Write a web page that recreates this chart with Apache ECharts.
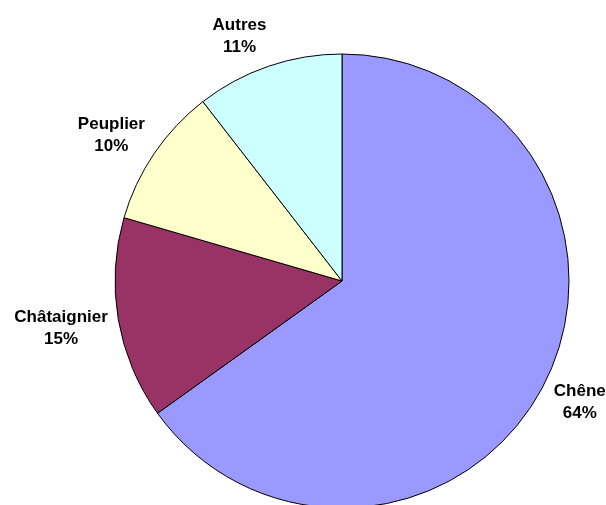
<!DOCTYPE html>
<html><head><meta charset="utf-8">
<script src="https://cdn.jsdelivr.net/npm/echarts@6/dist/echarts.min.js"></script>
<style>html,body{margin:0;padding:0;background:#fff}#c{width:606px;height:505px}</style>
</head><body><div id="c"></div>
<script>
const categories = ['Chêne', 'Châtaignier', 'Peuplier', 'Autres'];
// slice sizes as drawn in the picture
const values = [65.1, 14.4, 10.0, 10.5];
// percentage texts as printed on the picture
const pctLabels = ['64%', '15%', '10%', '11%'];
const colors = ['#9999FF', '#993366', '#FFFFCC', '#CCFFFF'];
const labelGap = [38, 58, 47, 40];
const labelShift = [[-3, 0], [5, -1], [1, 8], [-11, 8]];

const chart = echarts.init(document.getElementById('c'), null, {renderer: 'canvas'});
chart.setOption({
  animation: false,
  series: [{
    type: 'pie',
    center: [342, 281],
    radius: 227,
    startAngle: 90,
    clockwise: true,
    avoidLabelOverlap: false,
    itemStyle: {borderColor: '#000', borderWidth: 1},
    label: {
      show: true,
      position: 'outside',
      formatter: p => p.name + '\n' + pctLabels[p.dataIndex],
      fontFamily: 'Liberation Sans, Arial, sans-serif',
      fontWeight: 'bold',
      fontSize: 17,
      lineHeight: 22,
      color: '#000',
      align: 'center'
    },
    labelLine: {show: false, length2: 0},
    labelLayout: p => ({
      align: 'center', verticalAlign: 'middle',
      dx: labelShift[p.dataIndex][0], dy: labelShift[p.dataIndex][1]
    }),
    data: categories.map((n, i) => ({
      name: n, value: values[i],
      itemStyle: {color: colors[i]},
      labelLine: {show: false, length: labelGap[i], length2: 0}
    }))
  }]
});
</script></body></html>
